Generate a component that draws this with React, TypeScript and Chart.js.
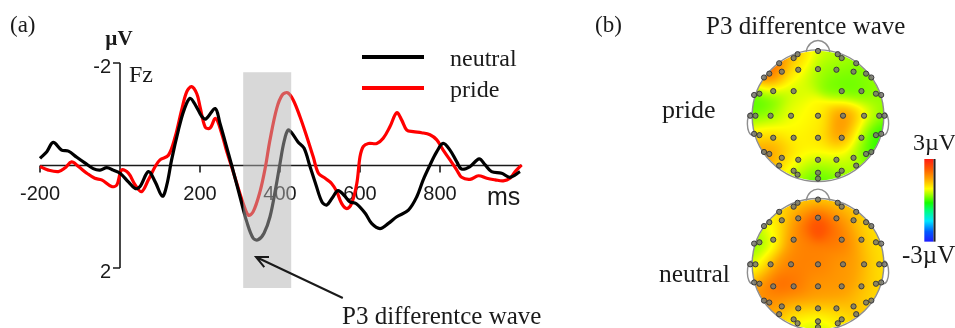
import React, { useEffect, useRef } from "react";
import { Chart, registerables } from "chart.js";

Chart.register(...registerables);

const SERIF = '"Liberation Serif", "Times New Roman", serif';
const SANS = '"Liberation Sans", Arial, sans-serif';
const INK = "#1a1a1a";

// ---------- Panel (a): ERP waveforms at Fz ----------
const seriesNames = ["neutral", "pride"];
const neutralMs = [-200, -183, -167, -146, -129, -108, -88, -67, -50, -33, -17, 0, 21, 38, 50, 71, 88, 106, 117, 129, 146, 160, 175, 190, 205, 215, 238, 250, 263, 280, 300, 317, 333, 345, 360, 375, 390, 400, 410, 420, 430, 445, 460, 475, 490, 505, 517, 530, 545, 560, 575, 590, 613, 629, 650, 671, 692, 721, 742, 758, 775, 792, 808, 825, 842, 854, 875, 898, 913, 929, 954, 975, 1000];
const neutralUv = [-0.14, -0.27, -0.45, -0.3, -0.28, -0.16, -0.05, 0.06, 0.09, 0.04, 0.09, 0.15, 0.32, 0.45, 0.41, 0.12, 0.32, 0.6, 0.38, -0.11, -0.69, -1.08, -1.31, -1.16, -0.95, -0.91, -1.11, -0.82, -0.46, 0.02, 0.61, 1.1, 1.42, 1.45, 1.32, 1.0, 0.41, -0.04, -0.46, -0.69, -0.63, -0.46, -0.34, 0.02, 0.38, 0.71, 0.77, 0.64, 0.49, 0.58, 0.71, 0.74, 0.93, 1.13, 1.23, 1.13, 1.0, 0.87, 0.61, 0.28, -0.01, -0.27, -0.43, -0.3, -0.07, 0.07, 0.02, -0.13, -0.01, 0.12, 0.15, 0.23, 0.12];
const prideMs = [-200, -179, -154, -138, -121, -104, -83, -63, -46, -21, -8, 4, 21, 38, 54, 71, 88, 100, 121, 138, 154, 167, 179, 192, 200, 213, 225, 239, 254, 267, 279, 292, 308, 321, 333, 350, 363, 375, 392, 406, 419, 433, 450, 467, 483, 496, 513, 529, 542, 554, 567, 579, 592, 600, 608, 621, 642, 658, 675, 692, 704, 717, 733, 754, 775, 792, 808, 825, 842, 854, 875, 896, 917, 938, 958, 975, 988, 1004];
const prideUv = [0.02, 0.09, 0.12, 0.05, -0.07, 0.02, 0.15, 0.25, 0.28, 0.41, 0.38, 0.09, 0.15, 0.38, 0.51, 0.28, 0.02, -0.11, -0.2, -0.56, -1.08, -1.44, -1.54, -1.4, -1.15, -0.75, -0.73, -0.92, -0.63, -0.27, 0.02, 0.35, 0.74, 0.97, 0.9, 0.51, 0.05, -0.5, -1.12, -1.38, -1.42, -1.28, -0.95, -0.56, -0.17, 0.15, 0.25, 0.35, 0.51, 0.74, 0.84, 0.74, 0.35, -0.17, -0.37, -0.43, -0.43, -0.53, -0.76, -1.03, -0.89, -0.69, -0.66, -0.64, -0.6, -0.5, -0.3, -0.11, 0.09, 0.23, 0.27, 0.2, 0.25, 0.28, 0.3, 0.25, 0.12, -0.01];
const seriesColors = ["#000000", "#ff0000"];
const xRange = [-200, 1000];
const yRange = [-2, 2];
const xTickValues = [-200, 200, 400, 600, 800];
const xTickLabels = ["-200", "200", "400", "600", "800"];
const yTickValues = [-2, 2];
const yTickLabels = ["-2", "2"];
const xUnit = "ms";
const yUnit = "\u00B5V";
const channelName = "Fz";
const panelALabel = "(a)";
const p3WindowMs = [308, 428];
const p3WindowUv = [-1.82, 2.39];
const arrowTip = [340, 1.785];
const arrowTail = [557, 2.585];
const annotationText = "P3 differentce wave";

// ---------- Panel (b): topographies ----------
const panelBLabel = "(b)";
const topoTitle = "P3 differentce wave";
const topoConditions = ["pride", "neutral"];
const headOffsets = [0, -2.294];
const electrodeX = [0.0, -0.31, 0.3, -0.37, 0.36, -0.59, 0.58, -0.74, 0.73, -0.82, 0.81, -0.55, 0.54, -0.3, 0.0, 0.28, -0.97, -0.89, -0.68, -0.37, 0.36, 0.66, 0.88, 0.96, -1.03, -0.95, -0.72, -0.41, 0.0, 0.38, 0.7, 0.93, 1.01, -0.97, -0.89, -0.68, -0.37, 0.0, 0.36, 0.66, 0.88, 0.96, -0.82, -0.74, -0.55, -0.3, 0.0, 0.28, 0.54, 0.73, 0.81, -0.59, 0.58, -0.37, 0.36, -0.31, 0.3, 0.0, 0.0];
const electrodeY = [1.0, 0.95, 0.95, 0.89, 0.89, 0.81, 0.81, 0.65, 0.65, 0.59, 0.59, 0.68, 0.68, 0.71, 0.72, 0.71, 0.32, 0.34, 0.38, 0.38, 0.38, 0.38, 0.34, 0.32, 0.0, 0.0, 0.0, 0.0, 0.0, 0.0, 0.0, 0.0, 0.0, -0.28, -0.3, -0.34, -0.34, -0.34, -0.34, -0.34, -0.3, -0.28, -0.56, -0.59, -0.65, -0.68, -0.68, -0.68, -0.65, -0.59, -0.56, -0.77, -0.77, -0.85, -0.85, -0.91, -0.91, -0.88, -0.97];
const prideTopo = [0.7, 1.2, 0.6, 1.4, 0.5, 2.8, 0.4, 2.9, 0.3, 2.4, 0.4, 0.4, 0.1, 0.6, 0.4, 0.2, 0.0, 0.05, 0.1, 0.7, 0.2, 0.1, 0.3, 0.4, 0.1, 0.15, 0.4, 0.8, 0.9, 1.8, 1.3, 0.4, 0.2, 1.1, 1.1, 1.0, 0.9, 1.0, 1.8, 0.9, -0.2, -0.3, 1.9, 1.8, 1.3, 1.0, 0.9, 0.9, 0.8, 0.0, -0.3, 1.2, 0.5, 0.6, 0.4, 0.2, 0.1, 0.1, 0.0];
const neutralTopo = [1.0, 1.0, 1.0, 1.4, 1.3, 0.8, 0.9, 0.9, 1.1, 0.5, 0.9, 1.4, 1.8, 2.2, 2.7, 2.3, 0.1, 0.3, 1.0, 1.9, 2.0, 1.6, 1.1, 1.0, 0.3, 0.7, 1.7, 1.9, 1.9, 1.7, 1.6, 1.1, 1.0, 1.2, 1.9, 2.4, 2.0, 1.7, 1.7, 1.6, 1.2, 1.0, 1.7, 1.8, 1.8, 1.7, 1.6, 1.6, 1.6, 1.2, 1.0, 1.2, 1.2, 0.8, 0.9, 0.5, 0.7, 0.6, 0.5];
const colorbarRange = [-3, 3];
const colorbarLabels = ["3\u00B5V", "-3\u00B5V"];
const colormapStops = [0, 0.12, 0.25, 0.38, 0.47, 0.56, 0.64, 0.76, 0.88, 1];
const colormapColors = [[30, 30, 255], [0, 90, 255], [0, 230, 255], [0, 255, 120], [20, 255, 0], [150, 255, 0], [255, 255, 0], [255, 165, 0], [255, 90, 0], [255, 30, 20]];

function colorAt(t: number) {
  const tt = Math.max(0, Math.min(1, t));
  for (let i = 1; i < colormapStops.length; i++) {
    if (tt <= colormapStops[i]) {
      const a = colormapStops[i - 1], b = colormapStops[i];
      const f = (tt - a) / (b - a);
      const c0 = colormapColors[i - 1], c1 = colormapColors[i];
      return [0, 1, 2].map((k) => Math.round(c0[k] + (c1[k] - c0[k]) * f));
    }
  }
  return colormapColors[colormapColors.length - 1];
}

// smooth kernel-weighted interpolation of electrode values
function smoothAt(vals: number[], ux: number, uy: number) {
  const s2 = 2 * 0.17 * 0.17;
  let num = 0, den = 0;
  for (let i = 0; i < electrodeX.length; i++) {
    const dx = ux - electrodeX[i], dy = uy - electrodeY[i];
    const w = Math.exp(-(dx * dx + dy * dy) / s2) + 1e-9;
    num += w * vals[i];
    den += w;
  }
  return num / den;
}

const erpPlugin = {
  id: "erpDecor",
  beforeDatasetsDraw(chart: any) {
    const { ctx } = chart;
    const xs = chart.scales.x, ys = chart.scales.y;
    const X = (v: number) => xs.getPixelForValue(v);
    const Y = (v: number) => ys.getPixelForValue(v);
    ctx.save();
    ctx.strokeStyle = INK;
    ctx.fillStyle = INK;
    ctx.lineWidth = 1.6;
    ctx.beginPath();
    ctx.moveTo(X(xRange[0]), Y(0));
    ctx.lineTo(X(xRange[1]) + 2, Y(0));
    xTickValues.forEach((v) => {
      ctx.moveTo(X(v), Y(0));
      ctx.lineTo(X(v), Y(0) + 7);
    });
    ctx.moveTo(X(0), Y(yRange[0]));
    ctx.lineTo(X(0), Y(yRange[1]));
    yTickValues.forEach((v) => {
      ctx.moveTo(X(0) - 7, Y(v));
      ctx.lineTo(X(0), Y(v));
    });
    ctx.stroke();
    ctx.font = `20px ${SANS}`;
    ctx.textAlign = "center";
    ctx.textBaseline = "alphabetic";
    xTickLabels.forEach((t, i) => ctx.fillText(t, X(xTickValues[i]), Y(0) + 34));
    ctx.textAlign = "right";
    yTickLabels.forEach((t, i) => ctx.fillText(t, X(0) - 9, Y(yTickValues[i]) + 10));
    ctx.textAlign = "left";
    ctx.font = `25px ${SANS}`;
    ctx.fillText(xUnit, X(xRange[1]) - 33, Y(0) + 39);
    ctx.font = `bold 21px ${SERIF}`;
    ctx.textAlign = "center";
    ctx.fillText(yUnit, X(0) - 1, 45);
    ctx.textAlign = "left";
    ctx.font = `24px ${SERIF}`;
    ctx.fillText(channelName, X(0) + 9, 82);
    ctx.font = `23px ${SERIF}`;
    ctx.fillText(panelALabel, 10, 32);
    ctx.restore();
  },
  afterDatasetsDraw(chart: any) {
    const { ctx } = chart;
    const xs = chart.scales.x, ys = chart.scales.y;
    const X = (v: number) => xs.getPixelForValue(v);
    const Y = (v: number) => ys.getPixelForValue(v);
    ctx.save();
    ctx.fillStyle = "rgba(177,177,177,0.5)";
    const x0 = X(p3WindowMs[0]), x1 = X(p3WindowMs[1]);
    const y0 = Y(p3WindowUv[0]), y1 = Y(p3WindowUv[1]);
    ctx.fillRect(x0, y0, x1 - x0, y1 - y0);
    const tx = X(arrowTip[0]), ty = Y(arrowTip[1]);
    const bx = X(arrowTail[0]), by = Y(arrowTail[1]);
    ctx.strokeStyle = INK;
    ctx.lineWidth = 2;
    ctx.beginPath();
    ctx.moveTo(bx, by);
    ctx.lineTo(tx, ty);
    const ang = Math.atan2(by - ty, bx - tx);
    const L = 13, sp = 0.44;
    ctx.moveTo(tx + L * Math.cos(ang - sp), ty + L * Math.sin(ang - sp));
    ctx.lineTo(tx, ty);
    ctx.lineTo(tx + L * Math.cos(ang + sp), ty + L * Math.sin(ang + sp));
    ctx.stroke();
    ctx.fillStyle = INK;
    ctx.font = `25px ${SERIF}`;
    ctx.textAlign = "left";
    ctx.textBaseline = "alphabetic";
    ctx.fillText(annotationText, 342, 324);
    const ly = [57, 88];
    seriesNames.forEach((name, i) => {
      ctx.strokeStyle = seriesColors[i];
      ctx.lineWidth = 4;
      ctx.beginPath();
      ctx.moveTo(X(605), ly[i]);
      ctx.lineTo(X(760), ly[i]);
      ctx.stroke();
      ctx.fillStyle = INK;
      ctx.font = `24px ${SERIF}`;
      ctx.fillText(name, 450, ly[i] + 9);
    });
    ctx.restore();
  },
};

const topoPlugin = {
  id: "topoDecor",
  beforeDatasetsDraw(chart: any) {
    const { ctx } = chart;
    const xs = chart.scales.x, ys = chart.scales.y;
    headOffsets.forEach((offY, h) => {
      const vals = h === 0 ? prideTopo : neutralTopo;
      const cx = xs.getPixelForValue(0), cy = ys.getPixelForValue(offY);
      const r = xs.getPixelForValue(1) - cx;
      const x0 = Math.floor(cx - r - 2), y0 = Math.floor(cy - r - 2);
      const size = Math.ceil(2 * r + 5);
      const off = document.createElement("canvas");
      off.width = size;
      off.height = size;
      const octx = off.getContext("2d") as CanvasRenderingContext2D;
      const img = octx.createImageData(size, size);
      for (let j = 0; j < size; j++) {
        for (let i = 0; i < size; i++) {
          const px = x0 + i + 0.5, py = y0 + j + 0.5;
          const ux = xs.getValueForPixel(px);
          const uy = ys.getValueForPixel(py) - offY;
          const rr = Math.sqrt(ux * ux + uy * uy);
          const edge = (1 - rr) * r + 0.5;
          if (edge <= 0) continue;
          const v = smoothAt(vals, ux, uy);
          const c = colorAt((v - colorbarRange[0]) / (colorbarRange[1] - colorbarRange[0]));
          const k = (j * size + i) * 4;
          img.data[k] = c[0];
          img.data[k + 1] = c[1];
          img.data[k + 2] = c[2];
          img.data[k + 3] = Math.round(255 * Math.min(1, edge));
        }
      }
      octx.putImageData(img, 0, 0);
      ctx.drawImage(off, x0, y0);
      const P = (ux: number, uy: number) => [xs.getPixelForValue(ux), ys.getPixelForValue(uy + offY)];
      ctx.save();
      ctx.strokeStyle = "#8e8e8e";
      ctx.lineWidth = 1.4;
      ctx.beginPath();
      ctx.arc(cx, cy, r, 0, Math.PI * 2);
      ctx.stroke();
      const n0 = P(-0.18, 0.984), n1 = P(-0.14, 1.22), n2 = P(0.14, 1.22), n3 = P(0.18, 0.984);
      ctx.beginPath();
      ctx.moveTo(n0[0], n0[1]);
      ctx.bezierCurveTo(n1[0], n1[1], n2[0], n2[1], n3[0], n3[1]);
      ctx.stroke();
      [-1, 1].forEach((s) => {
        const e0 = P(s * 0.998, 0.05), e1 = P(s * 1.1, 0.06), e2 = P(s * 1.1, -0.32), e3 = P(s * 0.985, -0.3);
        ctx.beginPath();
        ctx.moveTo(e0[0], e0[1]);
        ctx.bezierCurveTo(e1[0], e1[1], e2[0], e2[1], e3[0], e3[1]);
        ctx.stroke();
      });
      ctx.restore();
    });
  },
  afterDraw(chart: any) {
    const { ctx } = chart;
    const xs = chart.scales.x, ys = chart.scales.y;
    ctx.save();
    const cbx0 = xs.getPixelForValue(1.615), cbx1 = xs.getPixelForValue(1.755);
    const cby0 = ys.getPixelForValue(-0.668), cby1 = ys.getPixelForValue(-1.944);
    const g = ctx.createLinearGradient(0, cby1, 0, cby0);
    colormapStops.forEach((s, i) => {
      const c = colormapColors[i];
      g.addColorStop(s, `rgb(${c[0]},${c[1]},${c[2]})`);
    });
    ctx.fillStyle = g;
    ctx.fillRect(cbx0, cby0, cbx1 - cbx0, cby1 - cby0);
    ctx.fillStyle = "#222";
    ctx.fillRect(cbx1, cby0, 2, cby1 - cby0);
    ctx.fillStyle = INK;
    ctx.textAlign = "left";
    ctx.textBaseline = "alphabetic";
    ctx.font = `23px ${SERIF}`;
    ctx.fillText(panelBLabel, 15, 32);
    ctx.font = `25px ${SERIF}`;
    ctx.fillText(topoTitle, 126, 34);
    ctx.font = `26px ${SERIF}`;
    ctx.fillText(topoConditions[0], 82, 118);
    ctx.font = `25.5px ${SERIF}`;
    ctx.fillText(topoConditions[1], 79, 282);
    ctx.font = `24px ${SERIF}`;
    ctx.fillText(colorbarLabels[0], 333, 150);
    ctx.font = `25px ${SERIF}`;
    ctx.fillText(colorbarLabels[1], 322, 263);
    ctx.restore();
  },
};

export default function App() {
  const erpRef = useRef<HTMLCanvasElement | null>(null);
  const topoRef = useRef<HTMLCanvasElement | null>(null);

  useEffect(() => {
    const erp = new Chart(erpRef.current as HTMLCanvasElement, {
      type: "line",
      data: {
        datasets: [
          {
            label: seriesNames[0],
            data: neutralMs.map((x, i) => ({ x, y: neutralUv[i] })),
            borderColor: seriesColors[0],
            borderWidth: 3.2,
            pointRadius: 0,
            tension: 0.35,
            fill: false,
            clip: false,
          },
          {
            label: seriesNames[1],
            data: prideMs.map((x, i) => ({ x, y: prideUv[i] })),
            borderColor: seriesColors[1],
            borderWidth: 3.2,
            pointRadius: 0,
            tension: 0.35,
            fill: false,
            clip: false,
          },
        ],
      },
      options: {
        responsive: false,
        animation: false,
        devicePixelRatio: 1,
        layout: { padding: { left: 40, right: 60, top: 63, bottom: 60 } },
        scales: {
          x: { type: "linear", min: xRange[0], max: xRange[1], display: false },
          y: { type: "linear", min: yRange[0], max: yRange[1], reverse: true, display: false },
        },
        plugins: { legend: { display: false }, tooltip: { enabled: false } },
      },
      plugins: [erpPlugin],
    } as any);

    const topo = new Chart(topoRef.current as HTMLCanvasElement, {
      type: "scatter",
      data: {
        datasets: headOffsets.map((offY, h) => ({
          label: topoConditions[h] + " electrodes",
          data: electrodeX.map((x, i) => ({ x, y: electrodeY[i] + offY })),
          pointRadius: 2.6,
          pointBackgroundColor: "rgba(120,120,110,0.85)",
          pointBorderColor: "#3a3a3a",
          pointBorderWidth: 1,
          clip: false,
        })),
      },
      options: {
        responsive: false,
        animation: false,
        devicePixelRatio: 1,
        layout: { padding: { left: 159, right: 58, top: 38, bottom: 0.3 } },
        scales: {
          x: { type: "linear", min: -1.2, max: 1.2, display: false },
          y: { type: "linear", min: -3.2, max: 1.2, display: false },
        },
        plugins: { legend: { display: false }, tooltip: { enabled: false } },
      },
      plugins: [topoPlugin],
    } as any);

    return () => {
      erp.destroy();
      topo.destroy();
    };
  }, []);

  return (
    <div style={{ position: "absolute", left: 0, top: 0, width: 955, height: 328, background: "#fff", overflow: "hidden" }}>
      <canvas ref={erpRef} width={580} height={328} style={{ position: "absolute", left: 0, top: 0, width: 580, height: 328 }} />
      <canvas ref={topoRef} width={375} height={328} style={{ position: "absolute", left: 580, top: 0, width: 375, height: 328 }} />
    </div>
  );
}
